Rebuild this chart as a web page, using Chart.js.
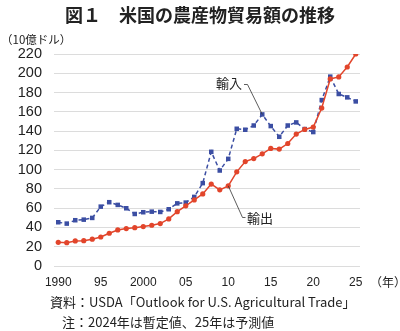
<!DOCTYPE html>
<html lang="ja">
<head>
<meta charset="utf-8">
<script src="https://cdn.jsdelivr.net/npm/chart.js@4"></script>
<style>
  body { margin: 0; background: #fff; }
  #wrap { position: relative; width: 400px; height: 331px; font-family: "Liberation Sans", "Noto Sans CJK JP", sans-serif; color: #222; }
  #wrap canvas { position: absolute; left: 0; top: 0; }
  .txt { position: absolute; white-space: nowrap; line-height: 1; }
  #title { left: 0; width: 400px; top: 5px; text-align: center; font-family: "Noto Sans CJK JP", sans-serif; font-weight: bold; font-size: 18px; }
  #unit { left: 1px; top: 34px; font-size: 11.5px; font-family: "Noto Sans CJK JP", sans-serif; }
  #nen { left: 370px; top: 276px; font-size: 12px; font-family: "Noto Sans CJK JP", sans-serif; }
  #src { left: 50px; top: 295px; font-size: 13px; font-family: "Noto Sans CJK JP", sans-serif; }
  #note { left: 62px; top: 315px; font-size: 13px; font-family: "Noto Sans CJK JP", sans-serif; }
  .lab { font-size: 13px; font-family: "Noto Sans CJK JP", sans-serif; }
  #labIn { left: 216px; top: 76px; }
  #labOut { left: 247px; top: 211px; }
</style>
</head>
<body>
<div id="wrap">
  <canvas id="myChart" width="400" height="331"></canvas>
  <div class="txt" id="title">図１　米国の農産物貿易額の推移</div>
  <div class="txt" id="unit">（10億ドル）</div>
  <div class="txt" id="nen">（年）</div>
  <div class="txt lab" id="labIn">輸入</div>
  <div class="txt lab" id="labOut">輸出</div>
  <div class="txt" id="src">資料：USDA「Outlook for U.S. Agricultural Trade」</div>
  <div class="txt" id="note">注：2024年は暫定値、25年は予測値</div>
</div>
<script>
const years = [1990, 1991, 1992, 1993, 1994, 1995, 1996, 1997, 1998, 1999,
  2000, 2001, 2002, 2003, 2004, 2005, 2006, 2007, 2008, 2009,
  2010, 2011, 2012, 2013, 2014, 2015, 2016, 2017, 2018, 2019,
  2020, 2021, 2022, 2023, 2024, 2025]

// 輸入 (blue squares, dashed)
const importValues = [45.4, 44.0, 47.5, 48.1, 49.9, 61.6, 66.2, 63.4, 59.9, 54.0,
  55.8, 56.4, 56.1, 58.9, 65.0, 65.8, 71.7, 86.0, 118.5, 99.1,
  111.2, 142.4, 141.4, 145.8, 157.3, 145.2, 134.1, 145.8, 149.0, 142.1,
  139.0, 172.2, 196.5, 178.5, 175.0, 170.8]

// 輸出 (red circles)
const exportValues = [24.6, 24.2, 26.0, 26.3, 27.8, 30.1, 34.0, 37.4, 38.8, 39.8,
  40.9, 42.3, 44.0, 48.9, 56.4, 62.4, 68.6, 74.8, 85.0, 79.0,
  83.2, 97.7, 108.4, 111.5, 116.4, 122.0, 121.3, 127.1, 136.9, 141.7,
  144.2, 163.9, 194.1, 196.2, 206.5, 220.0]

const xTicks = [1990, 1995, 2000, 2005, 2010, 2015, 2020, 2025]

const toPoints = (vals) => vals.map((v, i) => ({ x: years[i], y: v }))

// leader lines for the 輸入 / 輸出 labels
const leaders = {
  id: 'leaders',
  afterDatasetsDraw(chart) {
    const c = chart.ctx
    const pIn = chart.getDatasetMeta(0).data[years.indexOf(2014)]
    const pOut = chart.getDatasetMeta(1).data[years.indexOf(2010)]
    c.save()
    c.strokeStyle = '#333'
    c.lineWidth = 0.8
    c.beginPath()
    c.moveTo(pIn.x, pIn.y)
    c.lineTo(247.5, 84.5)
    c.lineTo(244, 84.5)
    c.moveTo(pOut.x, pOut.y)
    c.lineTo(242.5, 217.5)
    c.lineTo(245.5, 217.5)
    c.stroke()
    c.restore()
  }
}

const ctx = document.getElementById('myChart')
new Chart(ctx, {
  type: 'line',
  data: {
    datasets: [{
      label: '輸入',
      data: toPoints(importValues),
      borderColor: '#3b4ea3',
      backgroundColor: '#3b4ea3',
      borderWidth: 1.5,
      borderDash: [4, 3],
      pointStyle: 'rect',
      pointRadius: 3.2,
      pointBorderWidth: 0,
      order: 2
    }, {
      label: '輸出',
      data: toPoints(exportValues),
      borderColor: '#e2452b',
      backgroundColor: '#e2452b',
      borderWidth: 1.5,
      pointStyle: 'circle',
      pointRadius: 2.6,
      pointBorderWidth: 0,
      order: 1
    }]
  },
  options: {
    responsive: false,
    animation: false,
    layout: { padding: { left: 0, right: 40, top: 54, bottom: 0 } },
    plugins: {
      legend: { display: false },
      title: { display: false },
      tooltip: { enabled: false }
    },
    scales: {
      x: {
        type: 'linear',
        min: 1989.5,
        max: 2025.5,
        afterBuildTicks: (scale) => { scale.ticks = xTicks.map(v => ({ value: v })) },
        afterFit: (scale) => { scale.height = 65 },
        grid: { display: false, drawTicks: false },
        border: { display: false },
        ticks: {
          padding: 9,
          maxRotation: 0,
          autoSkip: false,
          color: '#222',
          font: { family: 'Liberation Sans', size: 12 },
          callback: (v) => (v === 1990 || v === 2000) ? String(v) : String(v % 100).padStart(2, '0')
        }
      },
      y: {
        min: 0,
        max: 220,
        afterFit: (scale) => { scale.width = 54 },
        grid: { color: '#dcdcdc', lineWidth: 1, drawTicks: false },
        border: { display: false },
        ticks: {
          stepSize: 20,
          padding: 12,
          autoSkip: false,
          color: '#222',
          font: { family: 'Liberation Sans', size: 14.5 }
        }
      }
    }
  },
  plugins: [leaders]
})
</script>
</body>
</html>
